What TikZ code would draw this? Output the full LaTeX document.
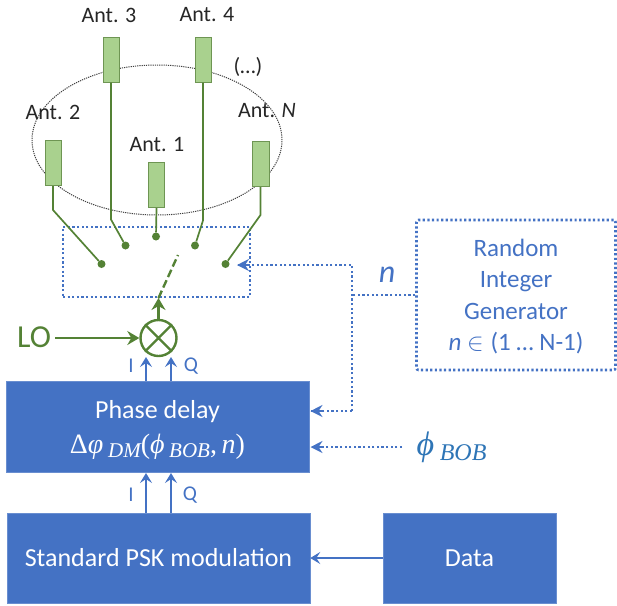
\documentclass[tikz,border=0pt]{standalone}
\usepackage{fontspec}
\setmainfont{Carlito}
\newfontfamily\mathserif{Liberation Serif}
\usetikzlibrary{arrows.meta,calc,shapes.geometric}
\definecolor{bluebox}{HTML}{4472C4}
\definecolor{greenline}{HTML}{548235}
\definecolor{greenfill}{HTML}{A9D18E}
\definecolor{textblue}{HTML}{2E75B6}
\tikzset{
  x=1pt,y=-1pt,
  ant/.style={draw=greenline!85!white,line width=1pt,fill=greenfill,minimum width=16pt,minimum height=45pt,inner sep=0pt},
  antlabel/.style={font=\fontsize{22}{24}\selectfont,text=black!85,inner sep=0pt},
  wire/.style={draw=greenline,line width=1.7pt},
  contact/.style={circle,fill=greenline,minimum size=8pt,inner sep=0pt},
  block/.style={fill=bluebox,draw=bluebox!80!white,line width=.5pt,inner sep=0pt,text=white,align=center,font=\fontsize{26}{34}\selectfont},
  dotline/.style={draw=bluebox,line width=2.6pt,dash pattern=on 2.2pt off 2.4pt},
  sig/.style={draw=bluebox,line width=1.5pt,-{Stealth[length=10pt,width=12pt,inset=4pt]}},
  siglabel/.style={text=bluebox,font=\fontsize{21}{23}\selectfont,inner sep=0pt},
  greenarrow/.style={draw=greenline,line width=2.3pt,-{Stealth[length=12pt,width=14pt,inset=4pt]}},
}
\begin{document}
\begin{tikzpicture}
\useasboundingbox (0,0) rectangle (617,605);
% ellipse
\node[draw=black!75,dash pattern=on 1.2pt off 1pt,line width=1pt,ellipse,minimum width=250pt,minimum height=150pt,inner sep=0pt] (ring) at (157,140) {};
% antennas
\node[ant] (a3) at (111,59.5) {};
\node[ant] (a4) at (203,59.5) {};
\node[ant] (a2) at (53,163) {};
\node[ant] (a1) at (156.5,185) {};
\node[ant,minimum width=17pt] (aN) at (260.5,164) {};
\node[antlabel] (l3) at (109,15) {Ant. 3};
\node[antlabel] (l4) at (207,15) {Ant. 4};
\node[antlabel] (l2) at (53,112) {Ant. 2};
\node[antlabel] (l1) at (157,145) {Ant. 1};
\node[antlabel] (lN) at (267,111) {Ant. \textit{N}};
\node[antlabel] (dots) at (248,67) {(…)};
% switch box
\node[dotline,draw,minimum width=187pt,minimum height=70pt,inner sep=0pt] (sw) at (156.5,262) {};
% contacts
\node[contact] (c2) at (101.5,264) {};
\node[contact] (c3) at (125.5,245.5) {};
\node[contact] (c1) at (156,236.5) {};
\node[contact] (c4) at (195,245.5) {};
\node[contact] (cN) at (225.5,264) {};
\draw[wire] (a2.south) -- ++(0,24) -- (c2);
\draw[wire] (a3.south) -- ++(0,137) -- (c3);
\draw[wire] (a1.south) -- (c1);
\draw[wire] (a4.south) -- ++(0,138) -- (c4);
\draw[wire] (aN.south) -- ++(0,28) -- (cN);
% mixer
\node[circle,draw=greenline,line width=2.4pt,minimum size=36pt,inner sep=0pt] (mix) at (158.5,338) {};
\draw[greenline,line width=2.4pt] (mix.north west) -- (mix.south east) (mix.north east) -- (mix.south west);
\coordinate (swIn) at (158.5,298);
\coordinate (swTip) at (178,255);
\draw[greenarrow] (mix.north) -- (swIn);
\draw[greenline,line width=2.4pt,dash pattern=on 8pt off 3.5pt] (swIn) -- (swTip);
\node[text=greenline,font=\fontsize{32}{34}\selectfont,inner sep=0pt] (lo) at (34,337) {LO};
\coordinate (loS) at (55,338);
\draw[greenarrow] (loS) -- (mix.west);
% blocks
\node[block,minimum width=303pt,minimum height=91pt] (phase) at (157.5,426.5) {};
\node[text=white,font=\fontsize{26}{28}\selectfont,inner sep=0pt] (phT) at (157.5,412) {Phase delay};
\node[text=white,font=\fontsize{28}{30}\selectfont\mathserif,inner sep=0pt] (phM) at (157.5,447) {Δ\textit{φ}\,\raisebox{-4pt}{\fontsize{21}{21}\selectfont\itshape DM}(\textit{ϕ}\,\raisebox{-4pt}{\fontsize{21}{21}\selectfont\itshape BOB},\,\textit{n})};
\node[block,minimum width=303pt,minimum height=90pt] (psk) at (158.5,558) {Standard PSK modulation};
\node[block,minimum width=173pt,minimum height=90pt] (data) at (469.5,558) {Data};
% I/Q arrows
\coordinate (mi) at (146,357);
\coordinate (mq) at (171,357);
\draw[sig] (146,381) -- (mi);
\draw[sig] (171,381) -- (mq);
\coordinate (pi) at (146,473);
\coordinate (pq) at (171,473);
\draw[sig] (146,513) -- (pi);
\draw[sig] (171,513) -- (pq);
\node[siglabel] (i1) at (131,366) {I};
\node[siglabel] (q1) at (191,366) {Q};
\node[siglabel] (i2) at (131,495) {I};
\node[siglabel] (q2) at (190,495) {Q};
\draw[sig] (data.west) -- (psk.east);
% random generator
\node[dotline,draw,rounded corners=2pt,minimum width=199pt,minimum height=150pt,inner sep=0pt] (rng) at (516,295) {};
\node[text=bluebox,align=center,font=\fontsize{25}{31.5}\selectfont,inner sep=0pt] (rngT) at (516,296.5) {Random\\Integer\\Generator\\\textit{n} $\in{}$(1 … N-1)};
\node[text=bluebox,font=\itshape\fontsize{32}{34}\selectfont,inner sep=0pt] (nl) at (387,274.5) {n};
\coordinate (j) at (352,295);
\coordinate (jt) at (352,265);
\coordinate (jb) at (352,411);
\coordinate (swA) at (237,265);
\coordinate (phA) at (310.5,411);
\coordinate (phB) at (310.5,447);
\coordinate (phiS) at (402,447);
\draw[dotline] (rng.west |- j) -- (j);
\draw[dotline] (jb) -- (jt) -- (swA);
\draw[dotline] (jb) -- (phA);
\draw[dotline] (phiS) -- (phB);
\foreach \c/\d in {swA/jt,phA/jb,phB/phiS}{
  \draw[bluebox,line width=1.5pt,-{Stealth[length=12pt,width=12pt,inset=4pt]}] ($(\c)!12pt!(\d)$) -- (\c);
}
\node[text=textblue,font=\fontsize{34}{36}\selectfont\mathserif,inner sep=0pt] (phi) at (451.5,447) {\textit{ϕ}\,\raisebox{-5pt}{\fontsize{24}{24}\selectfont\itshape BOB}};
\end{tikzpicture}
\end{document}
